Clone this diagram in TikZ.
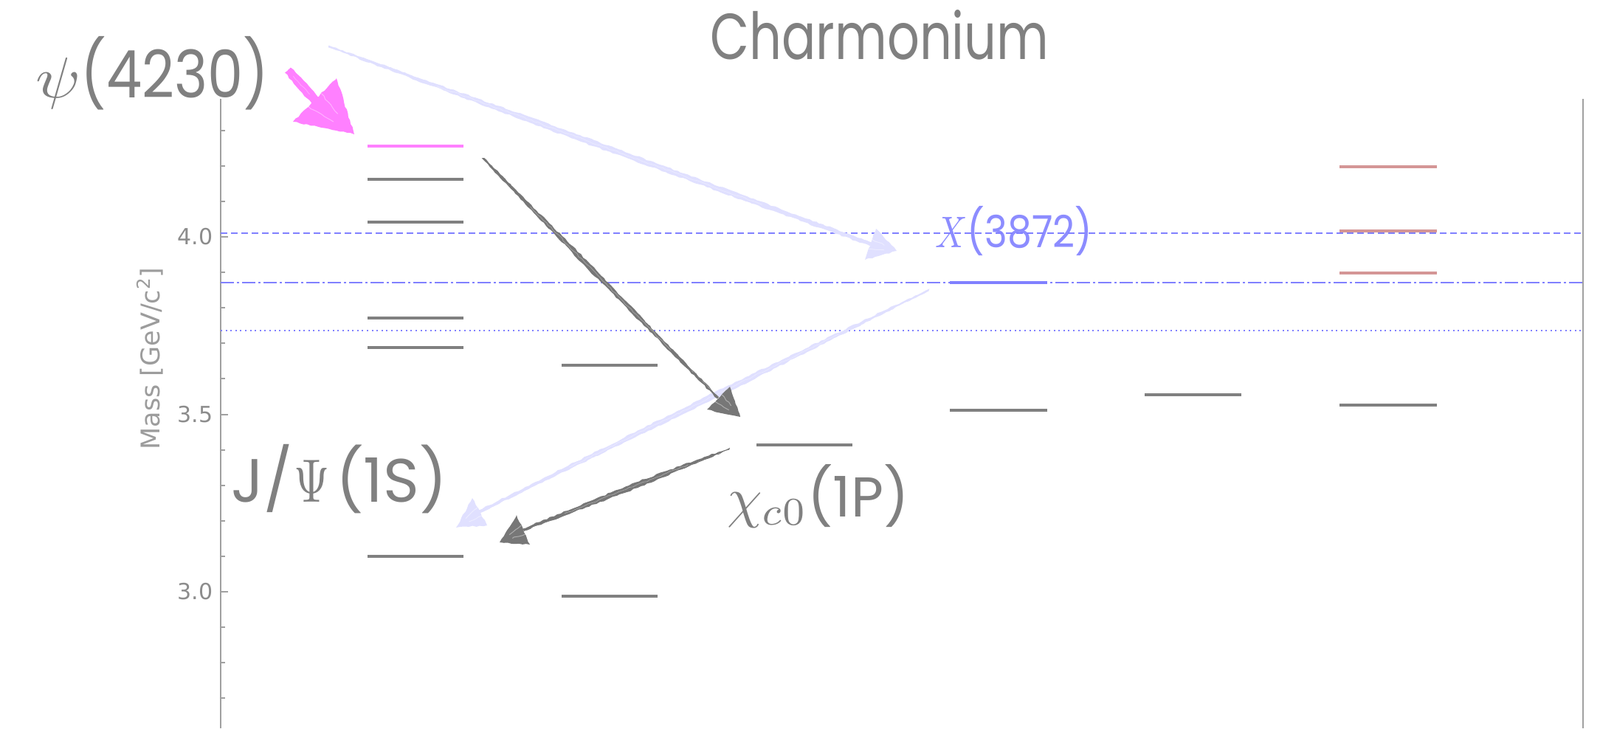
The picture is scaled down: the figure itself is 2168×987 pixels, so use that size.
\documentclass[tikz,border=0pt]{standalone}
\usepackage{fontspec}
\newfontfamily\futf{Poppins}
\newfontfamily\axf{DejaVu Sans}
\usetikzlibrary{calc,decorations.pathmorphing}
\definecolor{tgray}{HTML}{808080}
\definecolor{agray}{HTML}{777777}
\definecolor{lpink}{HTML}{FF80FF}
\definecolor{lav}{HTML}{E0E0FF}
\definecolor{thblue}{HTML}{8080FF}
\definecolor{salm}{HTML}{D49696}
\definecolor{axgray}{HTML}{A0A0A0}
\definecolor{tickgray}{HTML}{8C8C8C}
\definecolor{massgray}{HTML}{9C9C9C}
\tikzset{
  lvl/.style={line width=2pt},
  gl/.style={lvl,draw=tgray},
  pl/.style={lvl,draw=lpink},
  sl/.style={lvl,draw=salm},
  bl/.style={lvl,draw=thblue},
  thr/.style={draw=thblue,line width=1.3pt},
  axl/.style={draw=axgray,line width=1pt},
  big/.style={text=tgray,inner sep=0pt},
  tlab/.style={text=tickgray,inner sep=0pt,font=\fontsize{15}{18}\selectfont\axf},
  rough/.style={decorate,decoration={random steps,segment length=2.5pt,amplitude=0.45pt}},
}
% math symbol set at 10pt and scaled: #1 x factor, #2 y factor, #3 math
\newcommand\mscaled[3]{\scalebox{#1}[#2]{\normalsize$#3$}}
% tapered sketchy shaft: #1 start, #2 end, #3 #4 #5 half widths, #6 colour
\newcommand\skshaft[6]{%
  \fill[#6,rough] ($(#1)!#3!90:(#2)$) -- ($(#1)!0.45!(#2)!#4!90:(#2)$) -- ($(#2)!#5!-90:(#1)$)
     -- ($(#2)!#5!90:(#1)$) -- ($(#1)!0.45!(#2)!#4!-90:(#2)$) -- ($(#1)!#3!-90:(#2)$) -- cycle;
  \draw[#6,line width=0.5pt,rough] ($(#1)!0.5pt!90:(#2)$) -- ($(#2)!0.8pt!-90:(#1)$);
  \draw[white,opacity=0.35,line width=0.35pt,rough] ($(#1)!0.2!(#2)$) -- ($(#1)!0.8!(#2)$);
}
% sketchy head: #1 #2 base corners, #3 tip, #4 colour
\newcommand\skhead[4]{%
  \fill[#4,rough] (#1) -- (#2) -- (#3) -- cycle;
  \draw[white,opacity=0.4,line width=0.5pt,rough] ($(#1)!0.35!(#2)$) -- ($(#1)!0.35!(#2)!0.55!(#3)$);
  \draw[white,opacity=0.4,line width=0.5pt,rough] ($(#1)!0.65!(#2)$) -- ($(#1)!0.65!(#2)!0.5!(#3)$);
}
\begin{document}
\begin{tikzpicture}[x=0.5pt,y=-0.5pt]
\useasboundingbox (0,0) rectangle (2168,987);
\fill[white] (0,0) rectangle (2168,987);

% axes
\draw[axl] (299,134) -- (299,987);
\draw[axl] (2145,134) -- (2145,987);
\foreach \m in {4.3,4.2,4.1,3.9,3.8,3.7,3.6,3.4,3.3,3.2,3.1,2.9,2.8,2.7}
  \draw[axl] (299,{321+(4.0-\m)*481}) -- ++(6,0);
\foreach \m in {4.0,3.5,3.0}
  \draw[axl] (299,{321+(4.0-\m)*481}) -- ++(10,0);
\node[tlab,anchor=east] (t40) at (289,321) {4.0};
\node[tlab,anchor=east] (t35) at (289,561.5) {3.5};
\node[tlab,anchor=east] (t30) at (289,802) {3.0};
\node[inner sep=0pt,text=massgray,rotate=90] (mass) at (203,486)
  {\fontsize{17.5}{20}\selectfont\axf Mass [GeV/c\textsuperscript{2}]};

% levels
\draw[pl] (498,198) -- (628,198);
\draw[gl] (498,243) -- (628,243);
\draw[gl] (498,301) -- (628,301);
\draw[gl] (498,431) -- (628,431);
\draw[gl] (498,471) -- (628,471);
\draw[gl] (498,754) -- (628,754);
\draw[gl] (761,495) -- (891,495);
\draw[gl] (761,808) -- (891,808);
\draw[gl] (1025,603) -- (1155,603);
\draw[bl] (1287,383) -- (1419,383);
\draw[gl] (1287,556) -- (1419,556);
\draw[gl] (1551,535) -- (1682,535);
\draw[sl] (1815,226) -- (1947,226);
\draw[sl] (1815,313) -- (1947,313);
\draw[sl] (1815,370) -- (1947,370);
\draw[gl] (1815,549) -- (1947,549);

% thresholds
\draw[thr,dash pattern=on 4.5pt off 2.5pt] (299,316) -- (2145,316);
\draw[thr,dash pattern=on 9pt off 2pt on 1.5pt off 2pt] (299,383) -- (2145,383);
\draw[thr,line width=1.2pt,dash pattern=on 1pt off 2.3pt] (299,448) -- (2145,448);

% labels
\node[big,anchor=base] (title) at (1192,80) {\fontsize{44}{50}\selectfont\futf\scalebox{0.78}[1]{Charmonium}};
\node[big,anchor=base west] (psi) at (48,132) {\fontsize{44.5}{50}\selectfont\futf \mscaled{4.45}{3.9}{\psi}\scalebox{0.86}[1]{(4230)}};
\node[big,anchor=base west] (jpsi) at (313,680) {\fontsize{41.5}{48}\selectfont\futf J/\kern1pt\mscaled{3.1}{4.15}{\Psi}\kern4pt(1S)};
\node[big,anchor=base west] (chi) at (985,700) {\fontsize{38}{44}\selectfont\futf \mscaled{3.8}{3.8}{\chi_{c0}}(1P)};
\node[inner sep=0pt,text=thblue,text opacity=0.9,anchor=base west] (x3872) at (1267,335) {\fontsize{30}{36}\selectfont\futf \mscaled{2.4}{3.0}{X}\scalebox{0.87}[1]{(3872)}};

% arrow end points
\coordinate (p0) at (390,95);   \coordinate (p1) at (427,136);
\coordinate (pa) at (397,165);  \coordinate (pb) at (456,106);  \coordinate (pt) at (480,182);
\coordinate (l0) at (445,63);   \coordinate (l1) at (1180,331);
\coordinate (la) at (1172,352); \coordinate (lb) at (1187,310); \coordinate (lt) at (1215,340);
\coordinate (g0) at (655,215);  \coordinate (g1) at (973,540);
\coordinate (ga) at (958,555);  \coordinate (gb) at (989,524);  \coordinate (gt) at (1003,565);
\coordinate (m0) at (1258,393); \coordinate (m1) at (650,693);
\coordinate (ma) at (640,675);  \coordinate (mb) at (660,712);  \coordinate (mt) at (618,715);
\coordinate (k0) at (988,608);  \coordinate (k1) at (709,718);
\coordinate (ka) at (700,698);  \coordinate (kb) at (718,738);  \coordinate (kt) at (677,735);

% arrows
\skshaft{l0}{l1}{0.6pt}{2pt}{1.3pt}{lav}
\skhead{la}{lb}{lt}{lav}
\skshaft{m0}{m1}{0.5pt}{2pt}{0.9pt}{lav}
\skhead{ma}{mb}{mt}{lav}
\skshaft{p0}{p1}{2.6pt}{3.2pt}{3pt}{lpink}
\skhead{pa}{pb}{pt}{lpink}
\skshaft{g0}{g1}{0.6pt}{1.8pt}{0.5pt}{agray}
\skhead{ga}{gb}{gt}{agray}
\skshaft{k0}{k1}{0.4pt}{2pt}{0.8pt}{agray}
\skhead{ka}{kb}{kt}{agray}
\end{tikzpicture}
\end{document}
